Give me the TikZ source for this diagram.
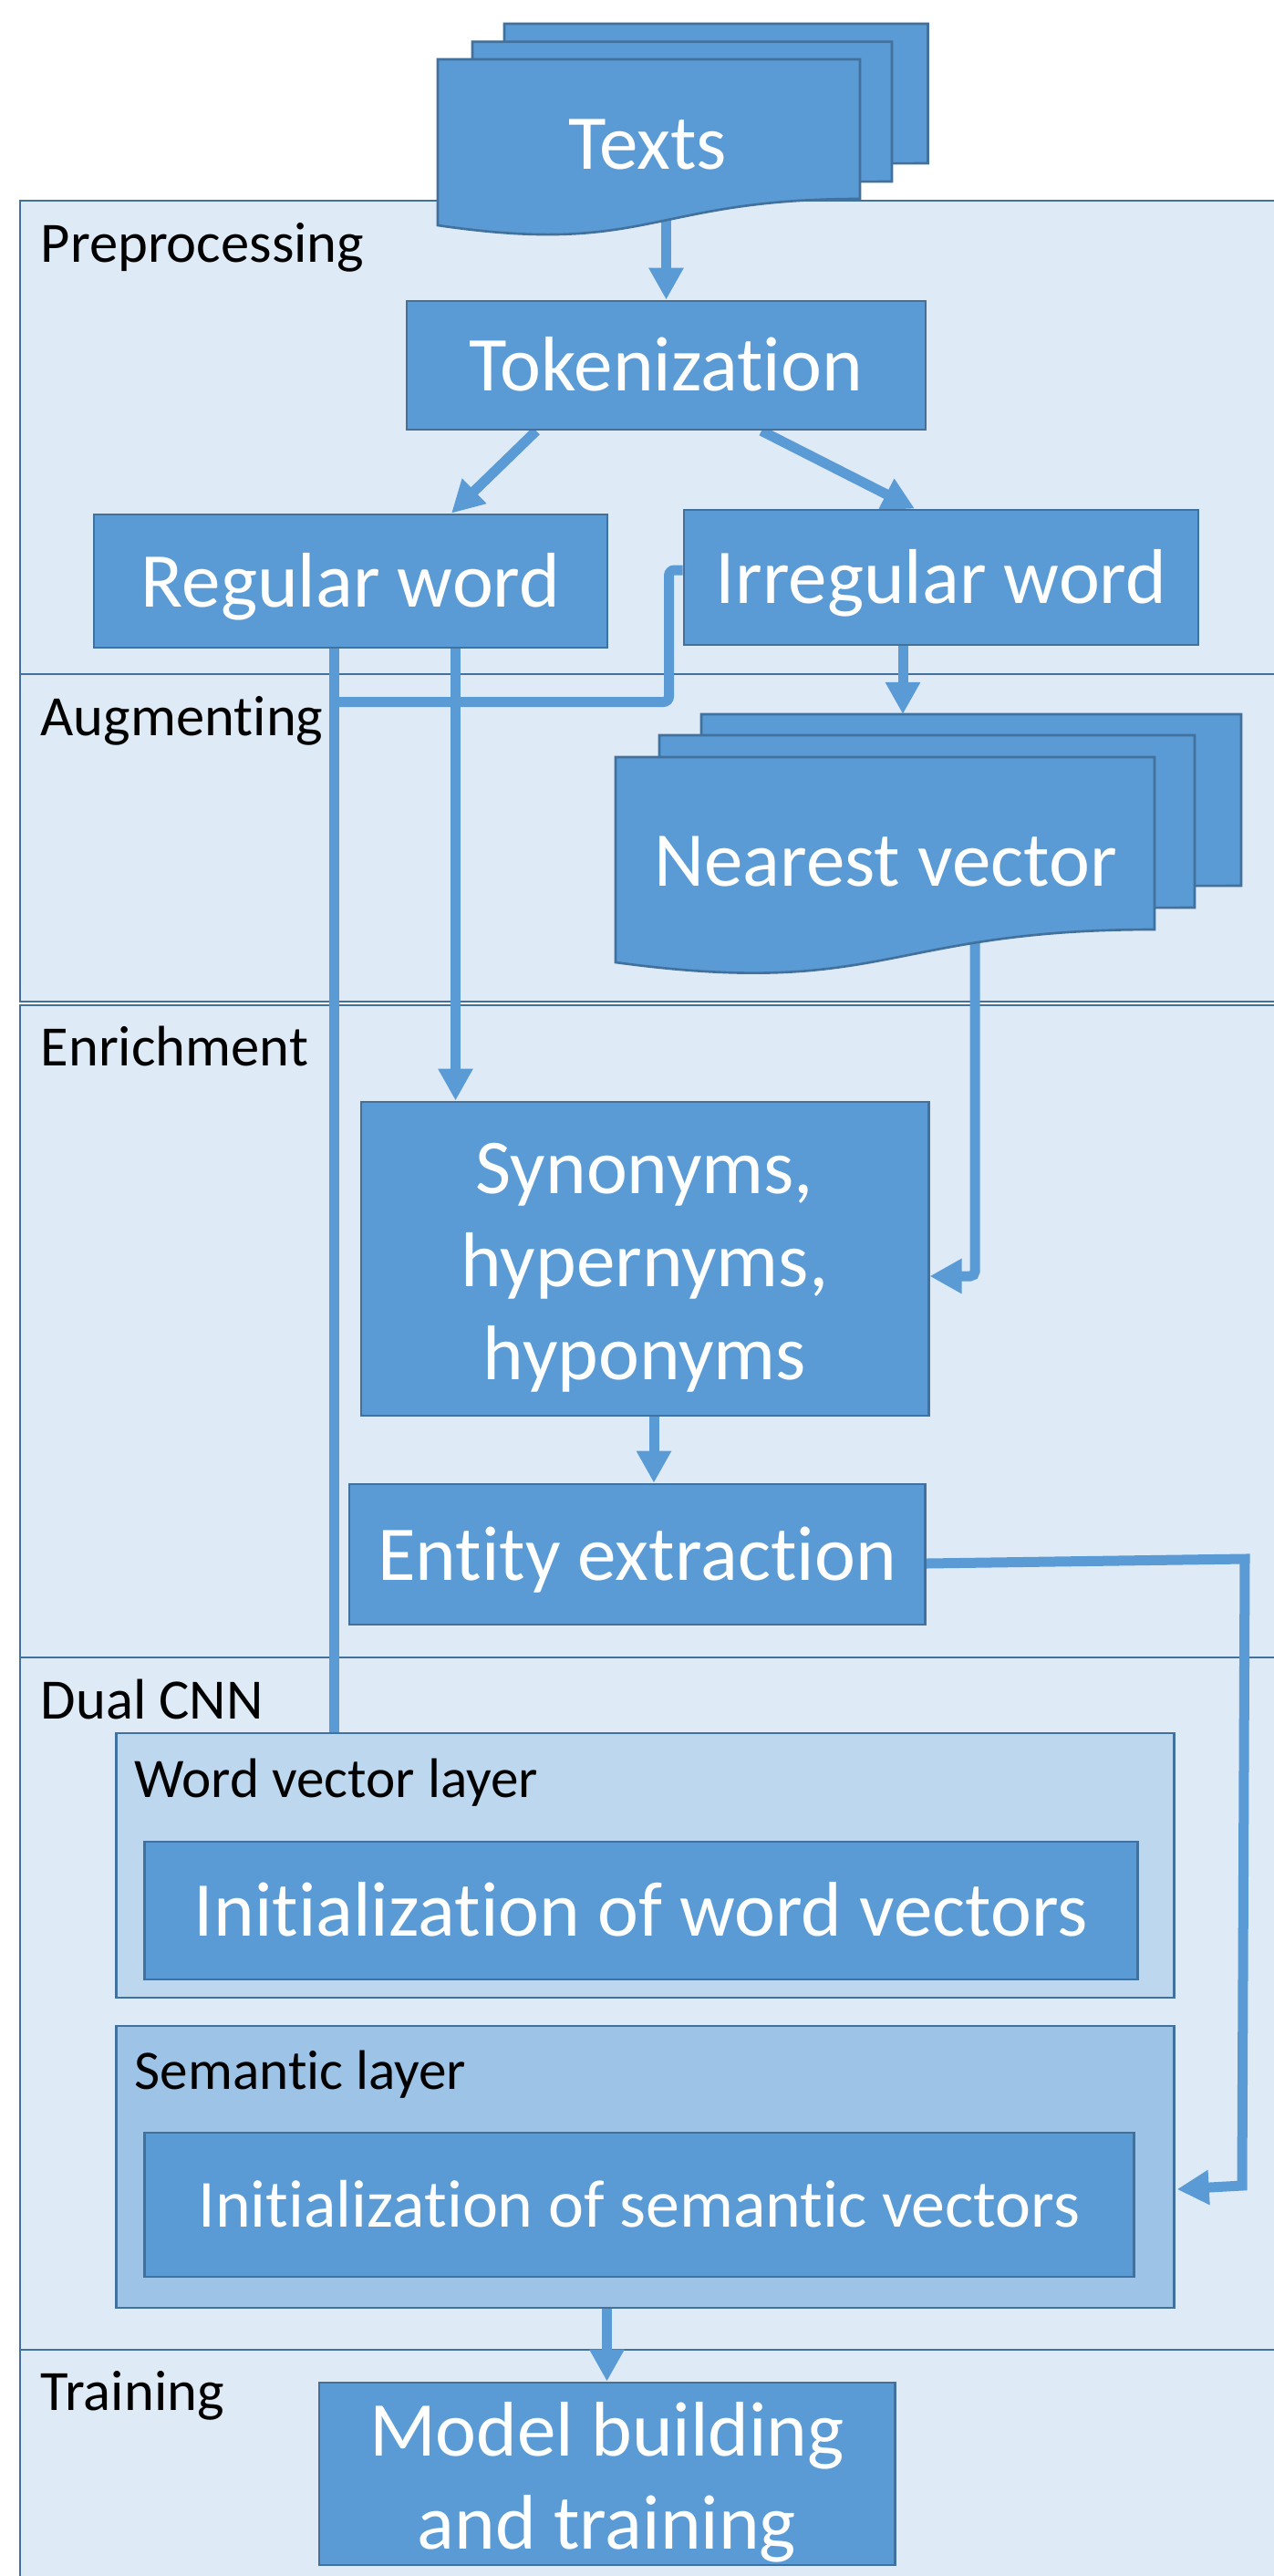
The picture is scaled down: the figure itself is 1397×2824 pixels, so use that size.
\documentclass[tikz,border=0pt]{standalone}
\usepackage{fontspec}
\setmainfont{Carlito}[Ligatures=NoCommon]
\usetikzlibrary{arrows.meta,calc}
\definecolor{acc}{HTML}{5B9BD5}
\definecolor{bdr}{HTML}{41719C}
\definecolor{lanefill}{HTML}{DEEBF7}
\definecolor{wlfill}{HTML}{BDD7EE}
\definecolor{slfill}{HTML}{9DC3E6}
\pgfdeclarelayer{lanes}
\pgfdeclarelayer{conn}
\pgfsetlayers{lanes,conn,main}
\begin{document}
\begin{tikzpicture}[x=0.01cm,y=-0.01cm,
  lane/.style={draw=bdr,fill=lanefill,line width=0.7pt},
  lanelbl/.style={anchor=base west,inner sep=0pt,font=\fontsize{17.8}{21}\selectfont},
  layerbox/.style={draw=bdr,line width=0.75pt,inner sep=0pt},
  box/.style={draw=bdr,fill=acc,line width=0.75pt,text=white,inner sep=0pt,
    font=\fontsize{24.2}{29}\selectfont,align=center},
  one/.style={text height=0.56cm,text depth=0pt},
  multitext/.style={text=white,inner sep=0pt,font=\fontsize{24.2}{29}\selectfont,align=center},
  doc/.style={draw=bdr,fill=acc,line width=0.75pt},
  doctext/.style={text=white,inner sep=0pt,anchor=base,font=\fontsize{24.2}{29}\selectfont},
  conn/.style={draw=acc,line width=0.11cm},
  arr/.style={conn,-{Triangle[length=0.35cm,width=0.36cm]}},
]
\useasboundingbox (0,0) rectangle (1397,2824);

\begin{pgfonlayer}{lanes}
  \fill[white] (0,0) rectangle (1397,2824);
  \draw[lane] (22,220) rectangle (1402,739);
  \draw[lane] (22,739) rectangle (1402,1098);
  \draw[lane] (22,1102) rectangle (1402,1817);
  \draw[lane] (22,1817) rectangle (1402,2576);
  \draw[lane] (22,2576) rectangle (1402,2834);
\end{pgfonlayer}

% lane labels
\node[lanelbl] (lpre) at (44,287) {Preprocessing};
\node[lanelbl] (laug) at (44,806) {Augmenting};
\node[lanelbl] (lenr) at (44,1168) {Enrichment};
\node[lanelbl] (ldual) at (44,1884) {Dual CNN};
\node[lanelbl] (ltrain) at (44,2642) {Training};

% Texts multidocument
\path[doc] (553,26) -- (1017.5,26) -- (1017.5,179) -- (553,181) -- cycle;
\path[doc] (518,45.7) -- (978,45.7) -- (978,199) -- (518,201) -- cycle;
\path[doc] (480,65) -- (943,65) -- (943,218) .. controls (711.5,218) and (711.5,281) .. (480,247) -- cycle;
\node[doctext] (txt) at (710,185) {Texts};

% boxes
\node[box,one,minimum width=5.69cm,minimum height=1.41cm] (tok) at (730.5,400.5) {Tokenization};
\node[box,one,minimum width=5.63cm,minimum height=1.46cm] (reg) at (384.5,637) {Regular word};
\node[box,one,minimum width=5.64cm,minimum height=1.48cm] (irr) at (1032,633) {Irregular word};

% Nearest vector multidocument
\path[doc] (769,783) -- (1361,783) -- (1361,971) -- (769,973) -- cycle;
\path[doc] (723,806) -- (1310,806) -- (1310,995) -- (723,997) -- cycle;
\path[doc] (675,830) -- (1266,830) -- (1266,1019) .. controls (970.5,1019) and (970.5,1095) .. (675,1055) -- cycle;
\node[doctext] (nv) at (971,971) {Nearest vector};

\node[box,minimum width=6.22cm,minimum height=3.44cm] (syn) at (707,1380) {};
\node[multitext] (syntext) at ([yshift=-0.1cm]syn.center) {Synonyms,\\hypernyms,\\hyponyms};
\node[box,one,minimum width=6.31cm,minimum height=1.54cm] (ent) at (698.5,1704) {Entity extraction};

\node[layerbox,fill=wlfill,minimum width=11.59cm,minimum height=2.90cm] (wvl) at (707.5,2045) {};
\node[lanelbl,font=\fontsize{17.4}{21}\selectfont] (wvllbl) at (147,1970) {Word vector layer};
\node[box,one,minimum width=10.88cm,minimum height=1.51cm] (iwv) at (703,2094.5) {Initialization of word vectors};

\node[layerbox,fill=slfill,minimum width=11.59cm,minimum height=3.09cm] (sem) at (707.5,2375.5) {};
\node[lanelbl,font=\fontsize{17.4}{21}\selectfont] (semlbl) at (147,2290) {Semantic layer};
\node[box,text height=0.49cm,text depth=0pt,font=\fontsize{21}{25}\selectfont,minimum width=10.84cm,minimum height=1.58cm] (isv) at (701,2417) {Initialization of semantic vectors};

\node[box,minimum width=6.31cm,minimum height=2.0cm] (model) at (665.5,2712) {};
\node[multitext] (modeltext) at ([yshift=-0.09cm]model.center) {Model building\\and training};

% connectors
\begin{pgfonlayer}{conn}
  \coordinate (txtb) at (730.5,238);
  \draw[arr] (txtb) -- (txtb |- tok.north);
  \draw[arr] ($(tok.south)+(-142.5,0)$) -- ($(reg.north)+(110.5,0)$);
  \draw[arr] ($(tok.south)+(104.5,0)$) -- ($(irr.north)+(-29,0)$);
  \coordinate (rA) at ($(reg.south)+(-18,0)$);
  \draw[conn] (rA) -- (rA |- wvl.north);
  \coordinate (rB) at ($(reg.south)+(115,0)$);
  \draw[arr] (rB) -- (rB |- syn.north);
  \coordinate (iw) at ($(irr.west)+(0,-8)$);
  \coordinate (bend) at (733.5,769.5);
  \draw[conn,rounded corners=0.06cm] (iw) -| (bend) -- (bend -| rA);
  \coordinate (iS) at ($(irr.south)+(-42,0)$);
  \coordinate (nvtop) at (990,783);
  \draw[arr] (iS) -- (nvtop);
  \coordinate (nvb) at (1069,1020);
  \draw[arr,rounded corners=0.05cm] (nvb) |- ($(syn.east)+(0,19)$);
  \coordinate (sS) at ($(syn.south)+(10,0)$);
  \draw[arr] (sS) -- (sS |- ent.north);
  \coordinate (eE) at ($(ent.east)+(0,10)$);
  \coordinate (c1) at (1365,1709);
  \coordinate (c2) at (1362,2396);
  \draw[arr] (eE) -- (c1) -- (c2) -- ($(sem.east)+(2,24.5)$);
  \draw[arr] ($(sem.south)+(-42,0)$) -- (model.north);
\end{pgfonlayer}
\end{tikzpicture}
\end{document}
